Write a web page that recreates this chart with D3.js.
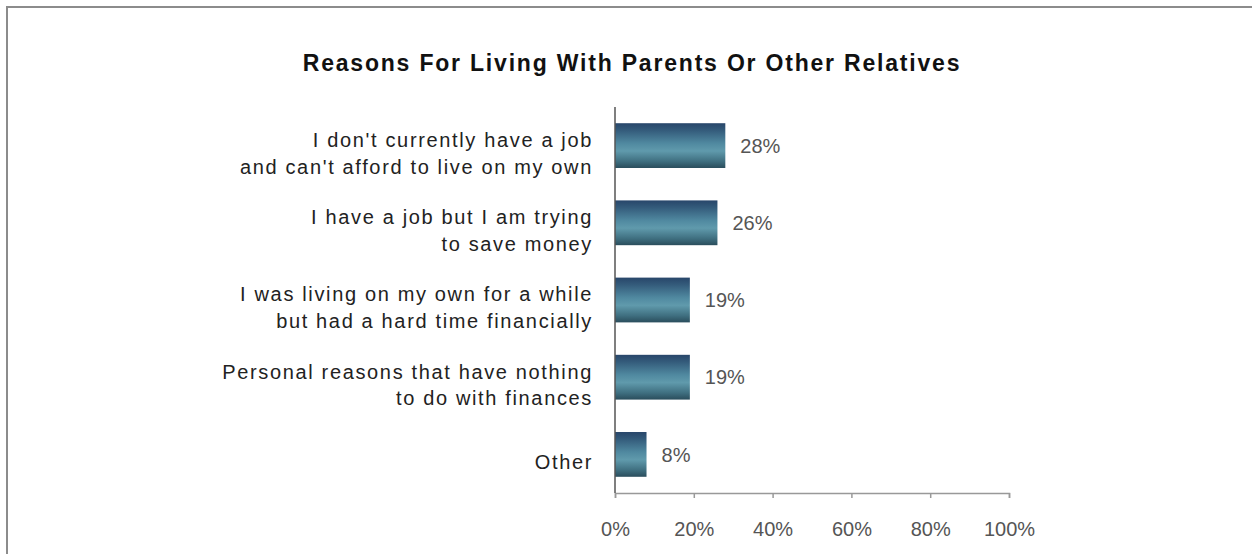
<!DOCTYPE html>
<html>
<head>
<meta charset="utf-8">
<script src="https://cdn.jsdelivr.net/npm/d3@7"></script>
<style>
  html, body { margin: 0; padding: 0; background: #fff; }
  svg { display: block; }
  text { font-family: "Liberation Sans", Arial, sans-serif; }
</style>
</head>
<body>
<svg id="chart" width="1252" height="554"></svg>
<script>
// Survey answers, top to bottom, each label split into its display lines
const categories = [
  ["I don't currently have a job", "and can't afford to live on my own"],
  ["I have a job but I am trying", "to save money"],
  ["I was living on my own for a while", "but had a hard time financially"],
  ["Personal reasons that have nothing", "to do with finances"],
  ["Other"]
];
const values = [28, 26, 19, 19, 8];
const xTicks = [0, 20, 40, 60, 80, 100];
const title = "Reasons For Living With Parents Or Other Relatives";

const svg = d3.select("#chart");
const W = 1252, H = 554;
const plot = { left: 615, right: 1009, top: 107, bottom: 493 };

// Outer frame (only top and left edges fall inside the page)
svg.append("rect")
  .attr("x", 7).attr("y", 7)
  .attr("width", W + 20).attr("height", H + 20)
  .attr("fill", "#fff")
  .attr("stroke", "#8c8c8c")
  .attr("stroke-width", 2);

// Bar shading: dark edges with a lighter band through the middle
const defs = svg.append("defs");
const grad = defs.append("linearGradient")
  .attr("id", "barGrad")
  .attr("x1", 0).attr("y1", 0).attr("x2", 0).attr("y2", 1);
[
  [0, "#28466a"],
  [0.15, "#335a7a"],
  [0.45, "#5089a0"],
  [0.62, "#609aac"],
  [0.85, "#3f6f80"],
  [1, "#2a4d5c"]
].forEach(([o, c]) => grad.append("stop").attr("offset", o).attr("stop-color", c));

const x = d3.scaleLinear().domain([0, 100]).range([plot.left, plot.right]);
const y = d3.scaleBand()
  .domain(d3.range(categories.length))
  .range([plot.top, plot.bottom])
  .paddingInner(0.42)
  .paddingOuter(0.21);

// Title
svg.append("text")
  .attr("x", 632).attr("y", 71)
  .attr("text-anchor", "middle")
  .attr("font-size", 23)
  .attr("font-weight", "bold")
  .attr("letter-spacing", 1.8)
  .attr("fill", "#111")
  .text(title);

// Bars
svg.append("g").selectAll("rect")
  .data(values)
  .join("rect")
  .attr("x", x(0))
  .attr("y", (d, i) => y(i))
  .attr("width", d => x(d) - x(0))
  .attr("height", y.bandwidth())
  .attr("fill", "url(#barGrad)");

// Value labels
svg.append("g").selectAll("text")
  .data(values)
  .join("text")
  .attr("x", d => x(d) + 15)
  .attr("y", (d, i) => y(i) + y.bandwidth() / 2)
  .attr("dy", "0.36em")
  .attr("font-size", 20)
  .attr("fill", "#555")
  .text(d => d + "%");

// Category labels, right-aligned against the axis
const lineH = 26.5;
const catG = svg.append("g");
categories.forEach((lines, i) => {
  const cy = y(i) + y.bandwidth() / 2 + 7.5;
  const t = catG.append("text")
    .attr("text-anchor", "end")
    .attr("font-size", 20)
    .attr("letter-spacing", 1.65)
    .attr("fill", "#222");
  lines.forEach((ln, k) => {
    t.append("tspan")
      .attr("x", 593)
      .attr("y", cy + (k - (lines.length - 1) / 2) * lineH)
      .attr("dy", "0.36em")
      .text(ln);
  });
});

// Horizontal value axis
const xAxis = d3.axisBottom(x)
  .tickValues(xTicks)
  .tickSize(5)
  .tickPadding(24)
  .tickFormat(d => d + "%");
const gx = svg.append("g")
  .attr("transform", `translate(0,${plot.bottom})`)
  .call(xAxis);
gx.select(".domain").attr("stroke", "#999").attr("stroke-width", 1.5);
gx.selectAll(".tick line").attr("stroke", "#999").attr("stroke-width", 1.5);
gx.selectAll(".tick text")
  .attr("font-size", 20)
  .attr("font-family", "Liberation Sans, Arial, sans-serif")
  .attr("fill", "#555");

// Vertical category axis line
svg.append("line")
  .attr("x1", plot.left).attr("x2", plot.left)
  .attr("y1", plot.top).attr("y2", plot.bottom)
  .attr("stroke", "#555")
  .attr("stroke-width", 1.5);
</script>
</body>
</html>
